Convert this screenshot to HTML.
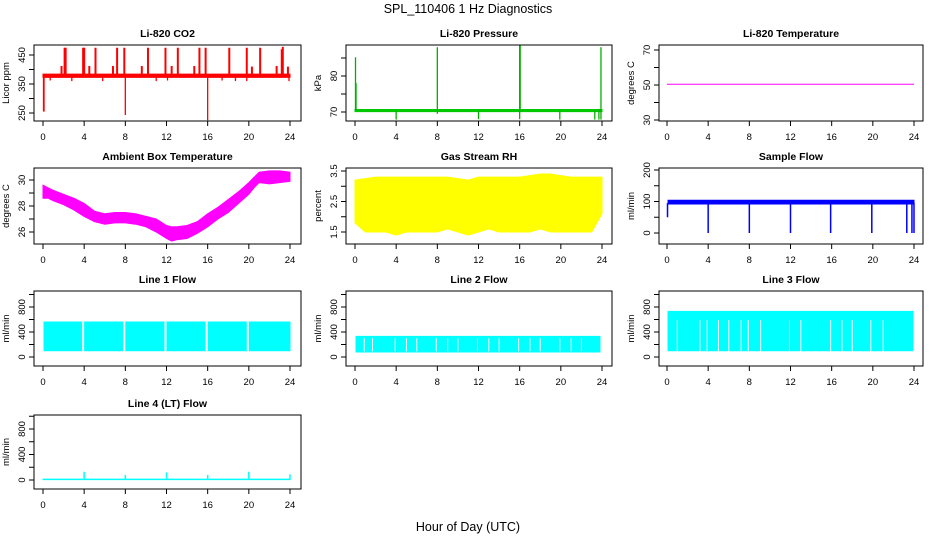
<!DOCTYPE html>
<html><head><meta charset="utf-8">
<style>
html,body{margin:0;padding:0;background:#fff;}
svg{display:block;font-family:"Liberation Sans",sans-serif;}
</style></head>
<body>
<svg id="c" width="936" height="540" viewBox="0 0 936 540" xmlns="http://www.w3.org/2000/svg">
<text x="468" y="13" text-anchor="middle" font-size="12.5">SPL_110406  1 Hz Diagnostics</text>
<text x="468" y="531" text-anchor="middle" font-size="12.5">Hour of Day (UTC)</text>
</svg>
<script>
// ---- data ----
const xTicks = [0,4,8,12,16,20,24];
// CO2
const co2BaseHours = [0,24];
const co2BaseLo = [373,373];
const co2BaseHi = [384,384];
const co2SpikeHours = [2.1,2.2,3.9,4.0,5.1,7.2,7.9,10.2,11.9,13.1,15.2,15.8,18.1,19.8,21.1,23.2,23.3,23.8,1.8,4.5,6.8,9.6,12.5,14.7,20.3,22.7];
const co2SpikeVals = [475,475,475,475,475,475,475,475,475,475,475,475,475,475,475,470,478,410,412,412,412,412,412,412,410,412];
const co2DipHours = [0.05,0.1,8.0,16.0,0.7,2.8,5.8,11.0,12.1,17.4,18.7,19.8,23.9];
const co2DipVals = [255,255,243,225,362,360,360,360,362,362,360,360,360];
// Pressure
const presBaseHours = [0,24];
const presBaseLo = [70.1,70.1];
const presBaseHi = [70.7,70.7];
const presSpikeHours = [0.05,0.1,8.0,16.0,16.05,23.9];
const presSpikeVals = [85.2,78,88,88.7,88.5,88];
const presDipHours = [4.0,8.0,12.0,16.0,19.9,23.3,23.7,23.9];
const presDipVals = [67.9,69.5,68.0,68.0,67.9,67.9,67.9,67.9];
// Li-820 temperature
const ltHours = [0,24];
const ltVals = [50.4,50.4];
// Ambient box temperature
const ambHours = [0,0.5,1,2,3,4,5,6,7,8,9,10,11,12,12.5,13,14,15,16,17,18,19,20,20.5,21,22,23,24];
const ambLo = [28.6,28.6,28.4,28.1,27.7,27.2,26.8,26.6,26.7,26.7,26.6,26.4,26.0,25.5,25.3,25.4,25.5,25.9,26.4,27.0,27.5,28.2,28.9,29.4,29.8,29.7,29.8,29.9];
const ambHi = [29.6,29.4,29.2,28.9,28.6,28.2,27.6,27.4,27.5,27.5,27.4,27.2,27.0,26.5,26.4,26.4,26.5,26.8,27.4,27.9,28.5,29.1,29.8,30.2,30.6,30.7,30.7,30.6];
// Gas stream RH
const rhHours = [0,1,2,3,4,5,6,7,8,9,10,11,12,13,14,15,16,17,18,19,20,21,22,23,24];
const rhLo = [1.8,1.5,1.5,1.5,1.4,1.5,1.5,1.5,1.5,1.6,1.5,1.4,1.5,1.6,1.5,1.5,1.5,1.5,1.6,1.5,1.5,1.5,1.5,1.5,2.1];
const rhHi = [3.2,3.25,3.3,3.3,3.3,3.3,3.3,3.3,3.3,3.3,3.25,3.2,3.3,3.3,3.3,3.3,3.3,3.35,3.4,3.4,3.35,3.3,3.3,3.3,3.3];
// Sample flow
const sfHours = [0.1,24];
const sfLo = [92,92];
const sfHi = [104,104];
const sfDipHours = [0.05,4.0,8.0,12.0,15.9,19.9,23.3,23.8,24.0];
const sfDipVals = [50,0,0,0,0,0,0,0,0];
// Line flows
const l1Hours = [0.1,24];
const l1Lo = [100,100];
const l1Hi = [560,560];
const l1GapHours = [3.9,7.9,11.9,15.9,19.9];
const l2Hours = [0.1,23.8];
const l2Lo = [80,80];
const l2Hi = [330,330];
const l2GapHours = [0.9,1.7,3.9,5.0,6.0,7.9,9.0,10.0,11.9,13.0,14.0,15.9,17.0,18.0,19.9,21.0,22.0];
const l3Hours = [0.1,23.9];
const l3Lo = [100,100];
const l3Hi = [730,730];
const l3GapHours = [1.0,3.2,3.9,5.0,6.0,7.2,7.9,9.1,11.9,13.0,15.9,17.0,18.0,19.8,21.0];
const l4Hours = [0,24];
const l4Vals = [10,10];
const l4SpikeHours = [4.0,8.0,12.0,16.0,20.0,24.0];
const l4SpikeVals = [130,80,120,80,130,90];

// ---- layout ----
const colL=[34,346,659], colR=[301,612,923], col0=[43,355,667], col24=[290,602,914];
const rowT=[45,168,291,415], rowB=[121,244,366,489];
const NS='http://www.w3.org/2000/svg';
const svg=document.getElementById('c');
function mk(tag,attrs,parent){const e=document.createElementNS(NS,tag);for(const k in attrs)e.setAttribute(k,attrs[k]);(parent||svg).appendChild(e);return e;}

function panel(name,col,row,title,ytitle,v1,p1,v2,p2,yTicks,yLabels){
  const g=mk('g',{});
  
  
  const L=colL[col],R=colR[col],T=rowT[row],B=rowB[row];
  const sx=h=>col0[col]+(col24[col]-col0[col])*h/24;
  const sy=v=>p1+(v-v1)*(p2-p1)/(v2-v1);
  const t=mk('text',{x:(L+R)/2,y:T-8,'text-anchor':'middle','font-size':10.5,'font-weight':'bold'},g);
  t.textContent=title;
  
  
  const yt=mk('text',{x:0,y:0,'text-anchor':'middle','font-size':9.5,transform:`translate(${L-25},${(T+B)/2}) rotate(-90)`},g);
  yt.textContent=ytitle;
  
  
  mk('line',{x1:L,x2:L,y1:sy(yTicks[0]),y2:sy(yTicks[yTicks.length-1]),stroke:'#000'},g);
  yTicks.forEach(v=>{mk('line',{x1:L-5,x2:L,y1:sy(v),y2:sy(v),stroke:'#000'},g);});
  yLabels.forEach(v=>{const tx=mk('text',{x:0,y:0,'text-anchor':'middle','font-size':9.5,transform:`translate(${L-9},${sy(v)}) rotate(-90)`},g);tx.textContent=v;
    
    });
  mk('line',{x1:sx(0),x2:sx(24),y1:B,y2:B,stroke:'#000'},g);
  xTicks.forEach(h=>{mk('line',{x1:sx(h),x2:sx(h),y1:B,y2:B+5,stroke:'#000'},g);
    const tx=mk('text',{x:sx(h),y:B+19,'text-anchor':'middle','font-size':9.5},g);tx.textContent=h;
    
    });
  const plot=mk('g',{},g);
  
  
  mk('rect',{x:L,y:T,width:R-L,height:B-T,fill:'none',stroke:'#000'},g);
  return {g:plot,sx,sy};
}
function band(p,hours,lo,hi,color,name){
  let d='M'+hours.map((h,i)=>p.sx(h)+','+p.sy(hi[i])).join('L');
  for(let i=hours.length-1;i>=0;i--)d+='L'+p.sx(hours[i])+','+p.sy(lo[i]);
  const e=mk('path',{d:d+'Z',fill:color,stroke:color,'stroke-width':1},p.g);
  
  
}
function spikes(p,hours,vals,base,color,w,name){
  hours.forEach((h,i)=>{const e=mk('line',{x1:p.sx(h),x2:p.sx(h),y1:p.sy(base),y2:p.sy(vals[i]),stroke:color,'stroke-width':w},p.g);
    
    });
}
function line(p,hours,vals,color,name){
  const e=mk('polyline',{points:hours.map((h,i)=>p.sx(h)+','+p.sy(vals[i])).join(' '),fill:'none',stroke:color,'stroke-width':1},p.g);
  
  
}

let p;
p=panel('co2-panel',0,0,'Li-820 CO2','Licor ppm',450,55,250,113,[250,300,350,400,450],[250,350,450]);
band(p,co2BaseHours,co2BaseLo,co2BaseHi,'#f00','co2-baseline');
spikes(p,co2SpikeHours,co2SpikeVals,380,'#f00',2,'co2-spike');
spikes(p,co2DipHours,co2DipVals,378,'#f00',1.3,'co2-dip');

p=panel('pressure-panel',1,0,'Li-820 Pressure','kPa',70,112,80,76,[70,75,80,85],[70,80]);
band(p,presBaseHours,presBaseLo,presBaseHi,'#00c800','pressure-baseline');
spikes(p,presSpikeHours,presSpikeVals,70.5,'#00b000',1.3,'pressure-spike');
spikes(p,presDipHours,presDipVals,70.5,'#00b000',1.3,'pressure-dip');

p=panel('li820-temp-panel',2,0,'Li-820 Temperature','degrees C',70,50,30,120,[30,40,50,60,70],[30,50,70]);
line(p,ltHours,ltVals,'#f0f','li820-temp-line');

p=panel('ambient-temp-panel',0,1,'Ambient Box Temperature','degrees C',30,180,26,232,[26,27,28,29,30],[26,28,30]);
band(p,ambHours,ambLo,ambHi,'#f0f','ambient-temp-band');

p=panel('rh-panel',1,1,'Gas Stream RH','percent',3.5,171,1.5,232,[1.5,2,2.5,3,3.5],[1.5,2.5,3.5]);
band(p,rhHours,rhLo,rhHi,'#ff0','rh-band');

p=panel('sample-flow-panel',2,1,'Sample Flow','ml/min',200,170,0,233,[0,50,100,150,200],[0,100,200]);
band(p,sfHours,sfLo,sfHi,'#00f','sample-flow-band');
spikes(p,sfDipHours,sfDipVals,95,'#00f',1.5,'sample-flow-dip');

p=panel('line1-flow-panel',0,2,'Line 1 Flow','ml/min',0,357,800,307,[0,200,400,600,800,1000],[0,400,800]);
band(p,l1Hours,l1Lo,l1Hi,'#0ff','line1-flow-band');
spikes(p,l1GapHours,l1GapHours.map(()=>570),90,'#fff',2,'line1-gap');

p=panel('line2-flow-panel',1,2,'Line 2 Flow','ml/min',0,357,800,307,[0,200,400,600,800,1000],[0,400,800]);
band(p,l2Hours,l2Lo,l2Hi,'#0ff','line2-flow-band');
spikes(p,l2GapHours,l2GapHours.map(()=>300),90,'#fff',1,'line2-gap');

p=panel('line3-flow-panel',2,2,'Line 3 Flow','ml/min',0,357,800,307,[0,200,400,600,800,1000],[0,400,800]);
band(p,l3Hours,l3Lo,l3Hi,'#0ff','line3-flow-band');
spikes(p,l3GapHours,l3GapHours.map(()=>590),90,'#fff',1,'line3-gap');

p=panel('line4-flow-panel',0,3,'Line 4 (LT) Flow','ml/min',0,480,800,429,[0,200,400,600,800,1000],[0,400,800]);
band(p,l4Hours,l4Vals.map(v=>v-4),l4Vals.map(v=>v+4),'#0ff','line4-flow-band');
spikes(p,l4SpikeHours,l4SpikeVals,10,'#0ff',1.5,'line4-spike');
</script>
</body></html>
